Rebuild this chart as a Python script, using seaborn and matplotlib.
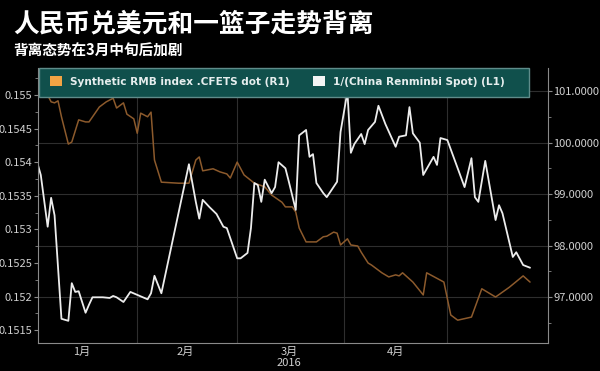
import pandas as pd
import matplotlib
matplotlib.use("Agg")
import matplotlib.pyplot as plt
import matplotlib.dates as mdates
from matplotlib.patches import Patch, Rectangle
from matplotlib.ticker import MultipleLocator, FuncFormatter
import seaborn as sns

# 1/(China Renminbi Spot), left axis
spot_dates = ["2016-01-03", "2016-01-04", "2016-01-06", "2016-01-07", "2016-01-08", "2016-01-10",
              "2016-01-12", "2016-01-13", "2016-01-14", "2016-01-15", "2016-01-17", "2016-01-18",
              "2016-01-19", "2016-01-22", "2016-01-24", "2016-01-25", "2016-01-26", "2016-01-28",
              "2016-01-30", "2016-02-04", "2016-02-05", "2016-02-06", "2016-02-08", "2016-02-16",
              "2016-02-18", "2016-02-19", "2016-02-20", "2016-02-22", "2016-02-24", "2016-02-26",
              "2016-02-27", "2016-02-28", "2016-03-01", "2016-03-02", "2016-03-04", "2016-03-05",
              "2016-03-06", "2016-03-07", "2016-03-08", "2016-03-09", "2016-03-11", "2016-03-12",
              "2016-03-13", "2016-03-15", "2016-03-16", "2016-03-18", "2016-03-19", "2016-03-21",
              "2016-03-22", "2016-03-23", "2016-03-24", "2016-03-26", "2016-03-27", "2016-03-30",
              "2016-03-31", "2016-04-02", "2016-04-03", "2016-04-04", "2016-04-06", "2016-04-07",
              "2016-04-08", "2016-04-10", "2016-04-11", "2016-04-13", "2016-04-16", "2016-04-17",
              "2016-04-19", "2016-04-20", "2016-04-21", "2016-04-23", "2016-04-24", "2016-04-27",
              "2016-04-28", "2016-04-29", "2016-05-01", "2016-05-06", "2016-05-08", "2016-05-09",
              "2016-05-10", "2016-05-12", "2016-05-15", "2016-05-16", "2016-05-17", "2016-05-20",
              "2016-05-21", "2016-05-23", "2016-05-25"]
spot_values = [0.15399, 0.15381, 0.15304, 0.15347, 0.15321, 0.15167,
               0.15164, 0.15220, 0.15207, 0.15208, 0.15176, 0.15188,
               0.15199, 0.15199, 0.15198, 0.15201, 0.15199, 0.15192,
               0.15207, 0.15196, 0.15205, 0.15231, 0.15205, 0.15397,
               0.15341, 0.15316, 0.15344, 0.15333, 0.15323, 0.15304,
               0.15302, 0.15287, 0.15257, 0.15257, 0.15265, 0.15302,
               0.15369, 0.15366, 0.15341, 0.15374, 0.15354, 0.15363,
               0.15400, 0.15391, 0.15371, 0.15329, 0.15440, 0.15448,
               0.15408, 0.15412, 0.15369, 0.15354, 0.15348, 0.15371,
               0.15445, 0.15505, 0.15414, 0.15427, 0.15442, 0.15427,
               0.15448, 0.15460, 0.15484, 0.15457, 0.15423, 0.15438,
               0.15440, 0.15482, 0.15443, 0.15429, 0.15381, 0.15408,
               0.15396, 0.15436, 0.15433, 0.15363, 0.15406, 0.15348,
               0.15341, 0.15402, 0.15314, 0.15336, 0.15324, 0.15259,
               0.15266, 0.15247, 0.15243]

# Synthetic RMB index .CFETS, right axis
cfets_dates = ["2016-01-04", "2016-01-06", "2016-01-07", "2016-01-08", "2016-01-09", "2016-01-10",
               "2016-01-12", "2016-01-13", "2016-01-15", "2016-01-17", "2016-01-18", "2016-01-21",
               "2016-01-23", "2016-01-25", "2016-01-26", "2016-01-28", "2016-01-29", "2016-01-31",
               "2016-02-01", "2016-02-02", "2016-02-04", "2016-02-05", "2016-02-06", "2016-02-08",
               "2016-02-13", "2016-02-16", "2016-02-18", "2016-02-19", "2016-02-20", "2016-02-23",
               "2016-02-25", "2016-02-27", "2016-02-28", "2016-03-01", "2016-03-03", "2016-03-06",
               "2016-03-09", "2016-03-11", "2016-03-14", "2016-03-15", "2016-03-17", "2016-03-18",
               "2016-03-19", "2016-03-21", "2016-03-22", "2016-03-24", "2016-03-26", "2016-03-27",
               "2016-03-29", "2016-03-30", "2016-03-31", "2016-04-02", "2016-04-03", "2016-04-05",
               "2016-04-06", "2016-04-08", "2016-04-09", "2016-04-12", "2016-04-14", "2016-04-16",
               "2016-04-17", "2016-04-18", "2016-04-21", "2016-04-24", "2016-04-25", "2016-04-30",
               "2016-05-02", "2016-05-04", "2016-05-08", "2016-05-11", "2016-05-12", "2016-05-15",
               "2016-05-19", "2016-05-23", "2016-05-25"]
cfets_values = [101.05, 100.92, 100.79, 100.77, 100.81, 100.50,
                99.97, 100.01, 100.44, 100.40, 100.40, 100.69,
                100.79, 100.86, 100.67, 100.77, 100.55, 100.46,
                100.18, 100.57, 100.50, 100.59, 99.66, 99.23,
                99.21, 99.21, 99.66, 99.72, 99.45, 99.49,
                99.43, 99.39, 99.31, 99.62, 99.37, 99.21,
                99.14, 98.98, 98.84, 98.75, 98.75, 98.65,
                98.34, 98.07, 98.07, 98.07, 98.17, 98.18,
                98.26, 98.24, 98.01, 98.13, 98.01, 97.99,
                97.87, 97.66, 97.62, 97.47, 97.39, 97.43,
                97.41, 97.47, 97.29, 97.04, 97.47, 97.29,
                96.65, 96.55, 96.61, 97.16, 97.12, 97.00,
                97.19, 97.41, 97.29]

month_starts = ["2016-02-01", "2016-03-01", "2016-04-01", "2016-05-01"]
month_mids = ["2016-01-16", "2016-02-15", "2016-03-16", "2016-04-16"]
month_labels = ["1月", "2月", "3月\n2016", "4月"]

spot = pd.DataFrame({"date": pd.to_datetime(spot_dates), "value": spot_values})
cfets = pd.DataFrame({"date": pd.to_datetime(cfets_dates), "value": cfets_values})

sns.set_style("dark")
plt.rcParams["font.family"] = ["Noto Sans CJK SC", "DejaVu Sans"]

bg = "black"
txt = "#d0d0d0"
grid_c = "#2e2e2e"
spine_c = "#8a8a8a"

fig = plt.figure(figsize=(6, 3.71), dpi=100, facecolor=bg)
ax = fig.add_axes([0.0633, 0.0755, 0.85, 0.7412])
ax2 = ax.twinx()
ax2.set_facecolor(bg)
ax.set_zorder(ax2.get_zorder() + 1)
ax.patch.set_visible(False)

sns.lineplot(data=cfets, x="date", y="value", ax=ax2, color="#8c5a2c", linewidth=1.1)
sns.lineplot(data=spot, x="date", y="value", ax=ax, color="#ececec", linewidth=1.3)

x0 = pd.Timestamp("2016-01-03 04:30")
x1 = pd.Timestamp("2016-05-30 05:00")
ax.set_xlim(x0, x1)
ax.set_ylim(0.15131, 0.155402)
ax2.set_ylim(96.107, 101.447)

# left axis ticks
ax.yaxis.set_major_locator(MultipleLocator(0.0005))
ax.yaxis.set_minor_locator(MultipleLocator(0.00025))
ax.yaxis.set_major_formatter(FuncFormatter(lambda v, p: f"{v:.4f}".rstrip("0")))
# right axis ticks
ax2.yaxis.set_major_locator(MultipleLocator(1))
ax2.yaxis.set_minor_locator(MultipleLocator(0.5))
ax2.yaxis.set_major_formatter(FuncFormatter(lambda v, p: f"{v:.4f}"))

# x ticks: marks at month boundaries, labels at mid month
ax.set_xticks(pd.to_datetime(month_starts))
ax.set_xticklabels([])
ax.set_xticks(pd.to_datetime(month_mids), minor=True)
ax.set_xticklabels(month_labels, minor=True)
ax.tick_params(axis="x", which="minor", length=0, colors=txt, labelsize=8, pad=3)
ax.tick_params(axis="x", which="major", length=3, color=spine_c, direction="in")
ax.tick_params(axis="y", which="both", colors=txt, labelsize=8, color=spine_c, pad=1)
ax.tick_params(axis="y", which="major", length=3)
ax.tick_params(axis="y", which="minor", length=2)
ax2.tick_params(axis="y", which="both", colors=txt, labelsize=8, color=spine_c, pad=1)
ax2.tick_params(axis="y", which="major", length=3)
ax2.tick_params(axis="y", which="minor", length=2)
for lab in ax.get_xticklabels(minor=True):
    lab.set_linespacing(1.1)

ax.set_xlabel("")
ax.set_ylabel("")
ax2.set_xlabel("")
ax2.set_ylabel("")

# grid: vertical at month starts, horizontal at right axis ticks
ax.grid(False)
ax2.grid(False)
for d in pd.to_datetime(month_starts):
    ax2.axvline(d, color=grid_c, linewidth=0.8, zorder=0)
for v in [97, 98, 99, 100, 101]:
    ax2.axhline(v, color=grid_c, linewidth=0.8, zorder=0)

for a in (ax, ax2):
    for s in a.spines.values():
        s.set_visible(False)
ax.spines["left"].set_visible(True)
ax.spines["left"].set_color(spine_c)
ax.spines["bottom"].set_visible(True)
ax.spines["bottom"].set_color(spine_c)
ax2.spines["right"].set_visible(True)
ax2.spines["right"].set_color(spine_c)

# legend box
ax.add_patch(Rectangle((0.002, 0.8945), 0.961, 0.105, transform=ax.transAxes,
                       facecolor="#10504c", edgecolor="#5f8c8a", linewidth=1, zorder=5,
                       clip_on=False))
handles = [Patch(facecolor="#f2a444", edgecolor="none"), Patch(facecolor="#f4f4f4", edgecolor="none")]
leg = ax.legend(handles, ["Synthetic RMB index .CFETS dot (R1)", "1/(China Renminbi Spot) (L1)"],
                ncol=2, loc="upper left", bbox_to_anchor=(0.005, 1.005), frameon=False,
                fontsize=8, handlelength=1.1, handleheight=1.1, handletextpad=0.8,
                columnspacing=2.2, prop={"family": ["DejaVu Sans"], "weight": "bold", "size": 7.6})
for t in leg.get_texts():
    t.set_color("#e6eeee")
leg.set_zorder(6)

fig.text(0.022, 0.972, "人民币兑美元和一篮子走势背离", color="white", fontsize=18.5,
         fontweight="bold", va="top", ha="left")
fig.text(0.022, 0.885, "背离态势在3月中旬后加剧", color="white", fontsize=10.5,
         fontweight="bold", va="top", ha="left")

fig.savefig("out.png", dpi=100, facecolor=bg)
